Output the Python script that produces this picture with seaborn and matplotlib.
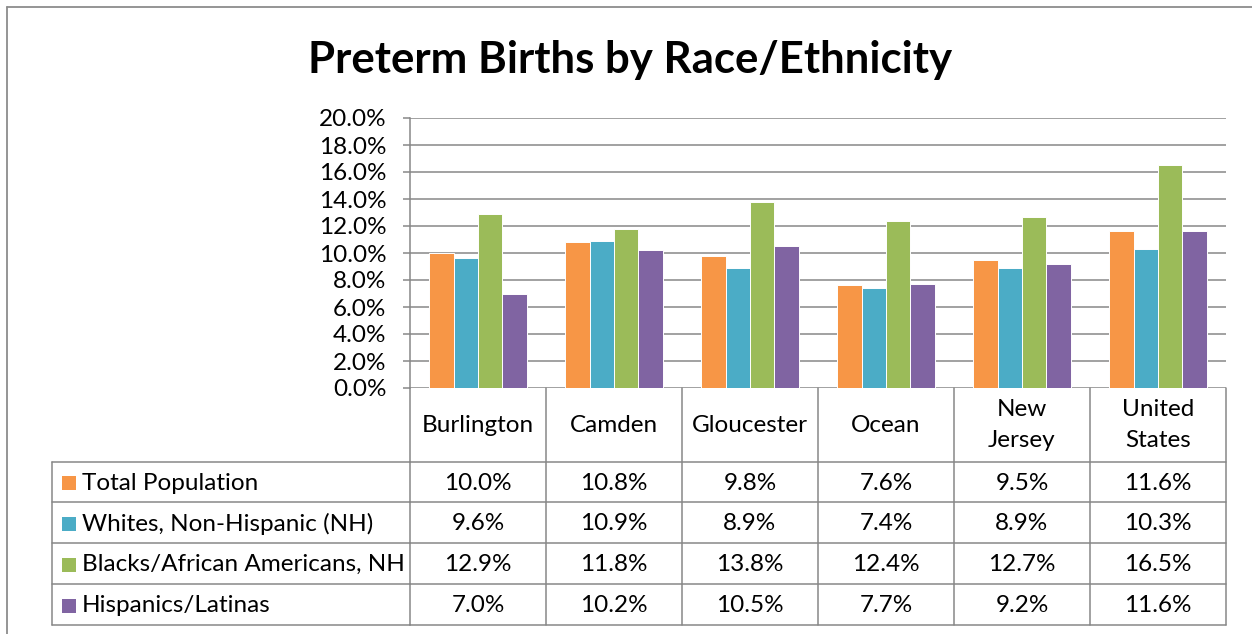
import matplotlib
matplotlib.use("Agg")
import matplotlib.pyplot as plt
import matplotlib.transforms as mtransforms
from matplotlib.lines import Line2D
from matplotlib.patches import Rectangle
import pandas as pd
import seaborn as sns

# ---- data -------------------------------------------------------------
regions = ["Burlington", "Camden", "Gloucester", "Ocean", "New\nJersey", "United\nStates"]
groups = ["Total Population", "Whites, Non-Hispanic (NH)",
          "Blacks/African Americans, NH", "Hispanics/Latinas"]
total_population = [10.0, 10.8, 9.8, 7.6, 9.5, 11.6]
whites_nh = [9.6, 10.9, 8.9, 7.4, 8.9, 10.3]
blacks_nh = [12.9, 11.8, 13.8, 12.4, 12.7, 16.5]
hispanics_latinas = [7.0, 10.2, 10.5, 7.7, 9.2, 11.6]
y_ticks = [0, 2, 4, 6, 8, 10, 12, 14, 16, 18, 20]

series = [total_population, whites_nh, blacks_nh, hispanics_latinas]
colors = ["#F79646", "#4BACC6", "#9BBB59", "#8064A2"]
title = "Preterm Births by Race/Ethnicity"

df = pd.DataFrame(
    [(r, g, v) for g, vals in zip(groups, series) for r, v in zip(regions, vals)],
    columns=["region", "group", "rate"],
)

# ---- styling ----------------------------------------------------------
sns.set_style("white")
plt.rcParams["font.family"] = ["Lato", "DejaVu Sans"]
plt.rcParams["text.color"] = "black"
plt.rcParams["ytick.labelcolor"] = "black"
GRID = "#878787"
FS = 17.5

W, H = 1252, 634
fig = plt.figure(figsize=(W / 100, H / 100), dpi=100)

# pixel helper: (x right, y down) from the top-left corner
pix = mtransforms.Affine2D().scale(1 / W, -1 / H).translate(0, 1) + fig.transFigure

ax = fig.add_axes([410 / W, 1 - 388 / H, (1226 - 410) / W, (388 - 118) / H])
sns.barplot(data=df, x="region", y="rate", hue="group", order=regions,
            hue_order=groups, palette=colors, saturation=1, width=0.72,
            edgecolor="white", linewidth=0.7, legend=False, ax=ax)

ax.set_xlim(-0.5, len(regions) - 0.5)
ax.set_ylim(0, 20)
ax.set_yticks(y_ticks)
ax.set_yticklabels([f"{t:.1f}%" for t in y_ticks], fontsize=FS, color="black")
ax.set_xticks([])
ax.set_xlabel("")
ax.set_ylabel("")
ax.set_axisbelow(True)
ax.yaxis.grid(True, color=GRID, linewidth=1.1)
ax.tick_params(axis="y", direction="out", length=5, width=1.1, color=GRID,
               pad=12, left=True)
for side in ["top", "right", "bottom"]:
    ax.spines[side].set_visible(False)
ax.spines["left"].set_color(GRID)
ax.spines["left"].set_linewidth(1.1)

# ---- data table below the plot ---------------------------------------
xpix = mtransforms.blended_transform_factory(ax.transData, pix)
row_edges = [462, 502, 543, 584, 625]
lw = 1.1

# horizontal rules across label column and value columns
for y in row_edges:
    fig.add_artist(Line2D([52, 410], [y, y], transform=pix, color=GRID, lw=lw))
    fig.add_artist(Line2D([-0.5, len(regions) - 0.5], [y, y], transform=xpix,
                          color=GRID, lw=lw))
# column boundaries
fig.add_artist(Line2D([52, 52], [462, 625], transform=pix, color=GRID, lw=lw))
for i in range(len(regions) + 1):
    fig.add_artist(Line2D([i - 0.5, i - 0.5], [388, 625], transform=xpix,
                          color=GRID, lw=lw))

# category headers
for i, name in enumerate(regions):
    fig.text(i, 425, name, transform=xpix, ha="center", va="center",
             fontsize=FS, linespacing=1.55)

# series rows: legend key, label, values
for k, (g, vals, c) in enumerate(zip(groups, series, colors)):
    yc = (row_edges[k] + row_edges[k + 1]) / 2 + 1
    fig.add_artist(Rectangle((62, yc - 7), 14, 14, transform=pix,
                             facecolor=c, edgecolor="none"))
    fig.text(82, yc, g, transform=pix, ha="left", va="center", fontsize=FS)
    for i, v in enumerate(vals):
        fig.text(i, yc, f"{v:.1f}%", transform=xpix, ha="center",
                 va="center", fontsize=FS)

# chart title
fig.text(0.5035, 1 - 60 / H, title, ha="center", va="center",
         fontsize=31.5, fontweight="bold")

# outer chart frame (left and top edges)
fig.add_artist(Line2D([7, 7], [7, 640], transform=pix, color="#8c8c8c", lw=1.3))
fig.add_artist(Line2D([7, 1260], [7, 7], transform=pix, color="#8c8c8c", lw=1.3))

fig.savefig("out.png", dpi=100, facecolor="white")
